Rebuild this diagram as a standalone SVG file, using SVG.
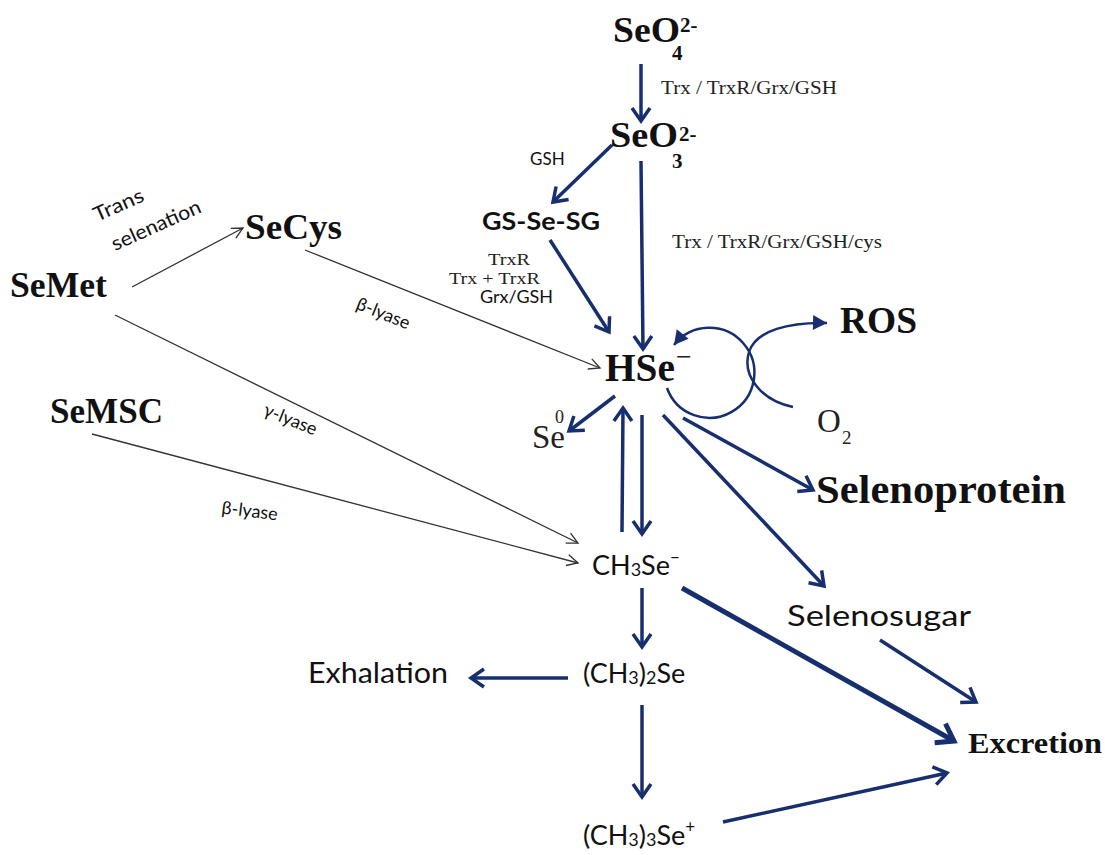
<svg xmlns="http://www.w3.org/2000/svg" width="1105" height="855" viewBox="0 0 1105 855">
<style>
.sb{font-family:"Liberation Serif","Times New Roman",serif;font-weight:bold;fill:#111}
.sr{font-family:"Liberation Serif","Times New Roman",serif;fill:#222}
.ss{font-family:Lato,"Liberation Sans",Arial,sans-serif;fill:#111}
.nv{stroke:#172f6e;stroke-width:3.5;fill:none;marker-end:url(#mNav)}
.nvk{stroke:#172f6e;stroke-width:5;fill:none;marker-end:url(#mNavBig)}
.cv{stroke:#172f6e;stroke-width:2.5;fill:none;marker-end:url(#mTri)}
.th{stroke:#333;stroke-width:1.3;fill:none;marker-end:url(#mThin)}
</style>
<defs>
<marker id="mNav" markerUnits="userSpaceOnUse" viewBox="-18 -14 22 28" markerWidth="22" markerHeight="28" refX="0" refY="0" orient="auto" overflow="visible">
<path d="M-13,-9 L0,0 L-13,9" fill="none" stroke="#172f6e" stroke-width="3.5"/>
</marker>
<marker id="mNavBig" markerUnits="userSpaceOnUse" viewBox="-22 -16 26 32" markerWidth="26" markerHeight="32" refX="0" refY="0" orient="auto" overflow="visible">
<path d="M-16,-11 L0,0 L-16,11" fill="none" stroke="#172f6e" stroke-width="5"/>
</marker>
<marker id="mThin" markerUnits="userSpaceOnUse" viewBox="-14 -8 16 16" markerWidth="16" markerHeight="16" refX="0" refY="0" orient="auto" overflow="visible">
<path d="M-11,-5.5 L0,0 L-11,5.5" fill="none" stroke="#333" stroke-width="1.3"/>
</marker>
<marker id="mTri" markerUnits="userSpaceOnUse" viewBox="-16 -10 18 20" markerWidth="18" markerHeight="20" refX="0" refY="0" orient="auto" overflow="visible">
<path d="M-14,-7.5 L0,0 L-14,7.5 Z" fill="#172f6e"/>
</marker>
</defs>
<rect width="1105" height="855" fill="#fff"/>

<g id="connectors">
<line class="nv" x1="641" y1="64" x2="641" y2="121"/>
<line class="nv" x1="612" y1="145" x2="553" y2="202"/>
<line class="nv" x1="641" y1="161" x2="643" y2="349"/>
<line class="nv" x1="550" y1="240" x2="609" y2="332"/>
<line class="nv" x1="615" y1="396" x2="569" y2="431"/>
<line class="nv" x1="622" y1="532" x2="623" y2="408"/>
<line class="nv" x1="642" y1="415" x2="642" y2="534"/>
<line class="nv" x1="683" y1="418" x2="813" y2="490"/>
<line class="nv" x1="663" y1="415" x2="824" y2="586"/>
<line class="nv" x1="642" y1="588" x2="642" y2="647"/>
<line class="nv" x1="568" y1="678" x2="471" y2="678"/>
<line class="nv" x1="642" y1="705" x2="642" y2="797"/>
<line class="nvk" x1="682" y1="588" x2="954" y2="741"/>
<line class="nv" x1="880" y1="640" x2="976" y2="702"/>
<line class="nv" x1="723" y1="822" x2="947" y2="773"/>
<path class="cv" d="M667,388 A45,45 0 1 0 674,345"/>
<path class="cv" d="M793,407 C760,400 742,375 749,352 C756,330 790,322 827,323"/>
<line class="th" x1="132" y1="287" x2="243" y2="228"/>
<line class="th" x1="305" y1="250" x2="600" y2="368"/>
<line class="th" x1="115" y1="315" x2="578" y2="543"/>
<line class="th" x1="92" y1="434" x2="578" y2="563"/>
</g>

<g id="labels">
<text class="sr" x="661" y="94" font-size="19" textLength="176" lengthAdjust="spacingAndGlyphs">Trx / TrxR/Grx/GSH</text>
<text class="ss" x="530" y="165" font-size="17">GSH</text>
<text class="sr" x="672" y="248" font-size="19" textLength="210" lengthAdjust="spacingAndGlyphs">Trx / TrxR/Grx/GSH/cys</text>
<text class="sr" x="488" y="265" font-size="17" textLength="42" lengthAdjust="spacingAndGlyphs">TrxR</text>
<text class="sr" x="449" y="284" font-size="17" textLength="91" lengthAdjust="spacingAndGlyphs">Trx + TrxR</text>
<text class="ss" x="480" y="303" font-size="18" textLength="73" lengthAdjust="spacingAndGlyphs">Grx/GSH</text>
<text class="ss" font-size="20" transform="translate(97,222) rotate(-24)" textLength="53" lengthAdjust="spacingAndGlyphs">Trans</text>
<text class="ss" font-size="20" transform="translate(115,251) rotate(-24)" textLength="96" lengthAdjust="spacingAndGlyphs">selenation</text>
<text class="ss" font-size="18" text-anchor="middle" transform="translate(381,319) rotate(22)">β-lyase</text>
<text class="ss" font-size="18" text-anchor="middle" transform="translate(288,425) rotate(22)">γ-lyase</text>
<text class="ss" font-size="18" text-anchor="middle" transform="translate(249,517) rotate(7)">β-lyase</text>
</g>

<g id="n-SeO4">
<text class="sb" x="613" y="42" font-size="36" textLength="67" lengthAdjust="spacingAndGlyphs">SeO</text>
<text class="sb" x="680" y="32" font-size="21">2-</text>
<text class="sb" x="672" y="60" font-size="21">4</text>
</g>
<g id="n-SeO3">
<text class="sb" x="610" y="147" font-size="36" textLength="68" lengthAdjust="spacingAndGlyphs">SeO</text>
<text class="sb" x="679" y="141" font-size="21">2-</text>
<text class="sb" x="672" y="168" font-size="21">3</text>
</g>
<g id="n-GSSeSG">
<text class="ss" x="482" y="230" font-size="24" font-weight="bold" textLength="118" lengthAdjust="spacingAndGlyphs">GS-Se-SG</text>
</g>
<g id="n-SeCys">
<text class="sb" x="245" y="239" font-size="35" textLength="97" lengthAdjust="spacingAndGlyphs">SeCys</text>
</g>
<g id="n-SeMet">
<text class="sb" x="10" y="297" font-size="35" textLength="97" lengthAdjust="spacingAndGlyphs">SeMet</text>
</g>
<g id="n-SeMSC">
<text class="sb" x="50" y="423" font-size="35" textLength="113" lengthAdjust="spacingAndGlyphs">SeMSC</text>
</g>
<g id="n-HSe">
<text class="sb" x="605" y="381" font-size="39" textLength="70" lengthAdjust="spacingAndGlyphs">HSe</text>
<text class="sr" x="676" y="366" font-size="28" fill="#111">−</text>
</g>
<g id="n-ROS">
<text class="sb" x="840" y="333" font-size="37" textLength="77" lengthAdjust="spacingAndGlyphs">ROS</text>
</g>
<g id="n-O2">
<text class="sr" x="817" y="432" font-size="33">O</text>
<text class="sr" x="842" y="444" font-size="19">2</text>
</g>
<g id="n-Se0">
<text class="sr" x="532" y="448" font-size="33">Se</text>
<text class="sr" x="555" y="423" font-size="18">0</text>
</g>
<g id="n-Selenoprotein">
<text class="sb" x="816" y="503" font-size="40" textLength="250" lengthAdjust="spacingAndGlyphs">Selenoprotein</text>
</g>
<g id="n-Selenosugar">
<text class="ss" x="787" y="626" font-size="29" textLength="184" lengthAdjust="spacingAndGlyphs">Selenosugar</text>
</g>
<g id="n-CH3Se">
<text class="ss" x="592" y="575" font-size="27">CH<tspan font-size="18" dy="1">3</tspan><tspan dy="-1">Se</tspan><tspan font-size="17" dy="-12">−</tspan></text>
</g>
<g id="n-Me2Se">
<text class="ss" x="583" y="683" font-size="27">(CH<tspan font-size="18" dy="1">3</tspan><tspan dy="-1">)</tspan><tspan font-size="18" dy="1">2</tspan><tspan dy="-1">Se</tspan></text>
</g>
<g id="n-Me3Se">
<text class="ss" x="583" y="845" font-size="27">(CH<tspan font-size="18" dy="1">3</tspan><tspan dy="-1">)</tspan><tspan font-size="18" dy="1">3</tspan><tspan dy="-1">Se</tspan><tspan font-size="17" dy="-12">+</tspan></text>
</g>
<g id="n-Exhalation">
<text class="ss" x="308" y="683" font-size="28" textLength="140" lengthAdjust="spacingAndGlyphs">Exhalation</text>
</g>
<g id="n-Excretion">
<text class="sb" x="968" y="753" font-size="30" textLength="134" lengthAdjust="spacingAndGlyphs">Excretion</text>
</g>
</svg>
